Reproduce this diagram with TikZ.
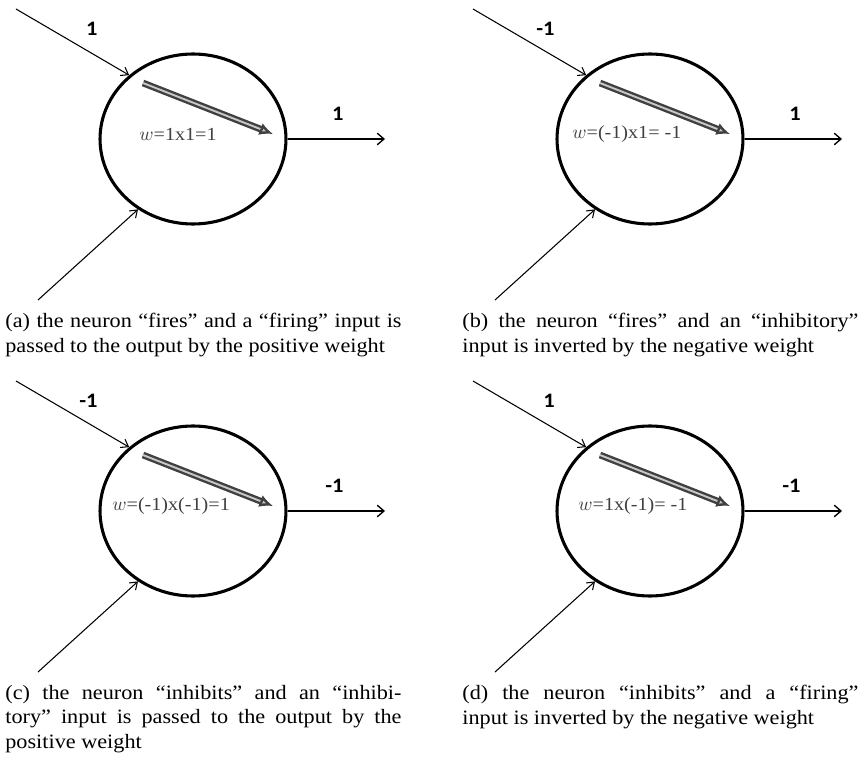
\documentclass[tikz,border=0pt]{standalone}
\usepackage{fontspec}
\setmainfont{Liberation Serif}[FakeStretch=1.09]
\newfontfamily\lblfont{Carlito}[FakeStretch=1.09]
\usetikzlibrary{arrows.meta,shapes.geometric}
\colorlet{wink}{black!75}
\colorlet{wfill}{black!22}
\hyphenpenalty=10000
\tolerance=9999

\tikzset{
  neuron/.style={draw, ellipse, line width=1.6pt, minimum width=96.7pt,
    minimum height=88.4pt, inner sep=0pt},
  inarrow/.style={line width=0.55pt, -{Straight Barb[length=3.5pt,width=5pt]}},
  outarrow/.style={line width=0.7pt, -{Straight Barb[length=3.5pt,width=6pt]}},
  warrow/.style={draw=wink, double=wfill, double distance=1pt,
    line width=1.25pt, -{Latex[length=7pt,width=6.5pt,fill=wfill]}},
  siglabel/.style={font=\lblfont\bfseries\fontsize{10.7}{12}\selectfont,
    anchor=east, inner sep=0pt},
  wlabel/.style={font=\fontsize{9.6}{12}\selectfont, text=wink, anchor=west,
    inner sep=0pt},
  captext/.style={font=\fontsize{10.6}{12.7}\selectfont, text width=206pt,
    align=justify, anchor=north west, inner sep=0pt},
}

\begin{document}
\begin{tikzpicture}[x=0.52pt, y=-0.52pt]
  \useasboundingbox (0,0) rectangle (863,758);

  \foreach \dx/\dy/\p/\vin/\vout/\wx/\wtxt/\captxt in {
    0/0/a/1/1/139/{$w$=1x1=1}/{(a) the neuron “fires” and a “firing” input is\linebreak passed to the output by the positive weight},
    457/0/b/-1/1/115/{$w$=(-1)x1= -1}/{(b) the neuron “fires” and an “inhibitory”\linebreak input is inverted by the negative weight},
    0/372/c/-1/-1/112/{$w$=(-1)x(-1)=1}/{(c) the neuron “inhibits” and an “inhibi-\linebreak tory” input is passed to the output by the\linebreak positive weight},
    457/372/d/1/-1/121/{$w$=1x(-1)= -1}/{(d) the neuron “inhibits” and a “firing”\linebreak input is inverted by the negative weight}%
  } {
    \begin{scope}[shift={(\dx,\dy)}]
      \node[neuron] (n\p) at (193,139) {};
      \coordinate (i\p) at (16,9);
      \coordinate (j\p) at (38,300);
      \coordinate (o\p) at (385,139);
      \coordinate (ws\p) at (143,83);
      \coordinate (we\p) at (273,134);
      \draw[inarrow] (i\p) -- (n\p.135);
      \draw[inarrow] (j\p) -- (n\p.232);
      \draw[outarrow] (n\p.east) -- (o\p);
      \draw[warrow] (ws\p) -- (we\p);
      \node[siglabel] (s\p) at (98,29) {\vin};
      \node[siglabel] (t\p) at (344,114) {\vout};
      \node[wlabel] (w\p) at (\wx,134) {\wtxt};
      \node[captext] (c\p) at (5,313) {\captxt};
    \end{scope}
  }
\end{tikzpicture}
\end{document}
